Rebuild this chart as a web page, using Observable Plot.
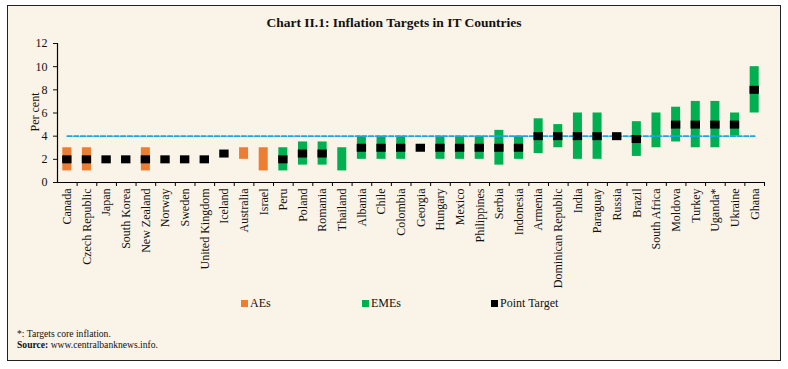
<!DOCTYPE html>
<html>
<head>
<meta charset="utf-8">
<script src="https://cdn.jsdelivr.net/npm/d3@7"></script>
<script src="https://cdn.jsdelivr.net/npm/@observablehq/plot@0.6"></script>
<style>
html,body{margin:0;padding:0;background:#fff;}
#wrap{position:relative;width:788px;height:369px;font-family:"Liberation Serif",serif;color:#111;overflow:hidden;}
#frame{position:absolute;left:7px;top:5px;width:772px;height:354px;border:1.5px solid #222;background:#FAF3E7;}
#title{position:absolute;left:0;width:788px;top:15px;text-align:center;font-weight:bold;font-size:13.5px;line-height:16px;}
#chart{position:absolute;left:0;top:0;}
#chart svg text{font-size:12px !important;}
#ylabel{position:absolute;left:35px;top:112px;transform:translate(-50%,-50%) rotate(-90deg);font-size:12px;white-space:nowrap;}
.leg{position:absolute;top:296px;font-size:12px;line-height:14px;white-space:nowrap;}
.sw{display:inline-block;width:7px;height:7px;margin-right:2px;vertical-align:0px;}
#notes{position:absolute;left:17px;top:329px;font-size:9.6px;line-height:10.5px;}
</style>
</head>
<body>
<div id="wrap">
  <div id="frame"></div>
  <div id="title">Chart II.1: Inflation Targets in IT Countries</div>
  <div id="chart"></div>
  <div id="ylabel">Per cent</div>
  <div id="legend"></div>
  <div id="notes"><div>*: Targets core inflation.</div><div><b>Source:</b> www.centralbanknews.info.</div></div>
</div>
<script>
const countries = ["Canada","Czech Republic","Japan","South Korea","New Zealand","Norway","Sweden","United Kingdom","Iceland","Australia","Israel","Peru","Poland","Romania","Thailand","Albania","Chile","Colombia","Georgia","Hungary","Mexico","Philippines","Serbia","Indonesia","Armenia","Dominican Republic","India","Paraguay","Russia","Brazil","South Africa","Moldova","Turkey","Uganda*","Ukraine","Ghana"];
const group = ["AEs","AEs","AEs","AEs","AEs","AEs","AEs","AEs","AEs","AEs","AEs","EMEs","EMEs","EMEs","EMEs","EMEs","EMEs","EMEs","EMEs","EMEs","EMEs","EMEs","EMEs","EMEs","EMEs","EMEs","EMEs","EMEs","EMEs","EMEs","EMEs","EMEs","EMEs","EMEs","EMEs","EMEs"];
const lower = [1,1,null,null,1,null,null,null,null,2,1,1,1.5,1.5,1,2,2,2,null,2,2,2,1.5,2,2.5,3,2,2,null,2.25,3,3.5,3,3,4,6];
const upper = [3,3,null,null,3,null,null,null,null,3,3,3,3.5,3.5,3,4,4,4,null,4,4,4,4.5,4,5.5,5,6,6,null,5.25,6,6.5,7,7,6,10];
const point = [2,2,2,2,2,2,2,2,2.5,null,null,2,2.5,2.5,null,3,3,3,3,3,3,3,3,3,4,4,4,4,4,3.75,null,5,5,5,5,8];
const referenceLine = 4;
const yTicks = [0,2,4,6,8,10,12];
const legendLabels = ["AEs","EMEs","Point Target"];
const legendColors = ["#ED7D31","#00B050","#000000"];

const data = countries.map((c,i)=>({country:c, group:group[i], lo:lower[i], hi:upper[i], pt:point[i]}));

const W=788, H=300, mL=57, mR=24, mT=43, mB=118;
const step = (W-mL-mR)/countries.length;
const inset = (step-9)/2;
const frameH = H-mT-mB;
const tickLen = 4;

const chart = Plot.plot({
  width: W, height: H,
  marginLeft: mL, marginRight: mR, marginTop: mT, marginBottom: mB,
  style: {background: "transparent", fontFamily: "Liberation Serif, serif", fontSize: "12px", color: "#111", overflow: "visible"},
  x: {type: "band", domain: countries, padding: 0, round: false, axis: null},
  y: {domain: [0,12], axis: null},
  color: {domain: legendLabels.slice(0,2), range: legendColors.slice(0,2)},
  marks: [
    Plot.barY(data.filter(d=>d.lo!=null), {x:"country", y1:"lo", y2:"hi", fill:"group", insetLeft:inset, insetRight:inset}),
    Plot.lineY(countries, {x: d=>d, y: ()=>referenceLine, stroke:"#1CA5E3", strokeWidth:1.8, strokeDasharray:"4.5,2.2"}),
    Plot.tickY(data.filter(d=>d.pt!=null), {x:"country", y:"pt", stroke:"#000", strokeWidth:8, insetLeft:inset-0.2, insetRight:inset-0.2}),
    Plot.ruleY([0], {stroke:"#000", strokeWidth:1.2}),
    Plot.ruleX([countries[0]], {dx:-step/2, stroke:"#000", strokeWidth:1.2}),
    Plot.ruleX(countries, {x: d=>d, dx: step/2, insetTop: frameH - tickLen, dy: tickLen, stroke:"#000", strokeWidth:1}),
    Plot.axisY({ticks: yTicks, tickSize: 4, tickPadding: 6, label: null, fontSize: 12}),
    Plot.axisX({tickSize: 0, tickPadding: 6, tickRotate: -90, label: null, fontSize: 12})
  ]
});
document.getElementById("chart").appendChild(chart);

const legendLeft = [241, 362, 491];
const leg = document.getElementById("legend");
legendLabels.forEach((l,i)=>{
  const s = document.createElement("div");
  s.className = "leg";
  s.style.left = legendLeft[i] + "px";
  s.innerHTML = `<span class="sw" style="background:${legendColors[i]}"></span>${l}`;
  leg.appendChild(s);
});
</script>
</body>
</html>
